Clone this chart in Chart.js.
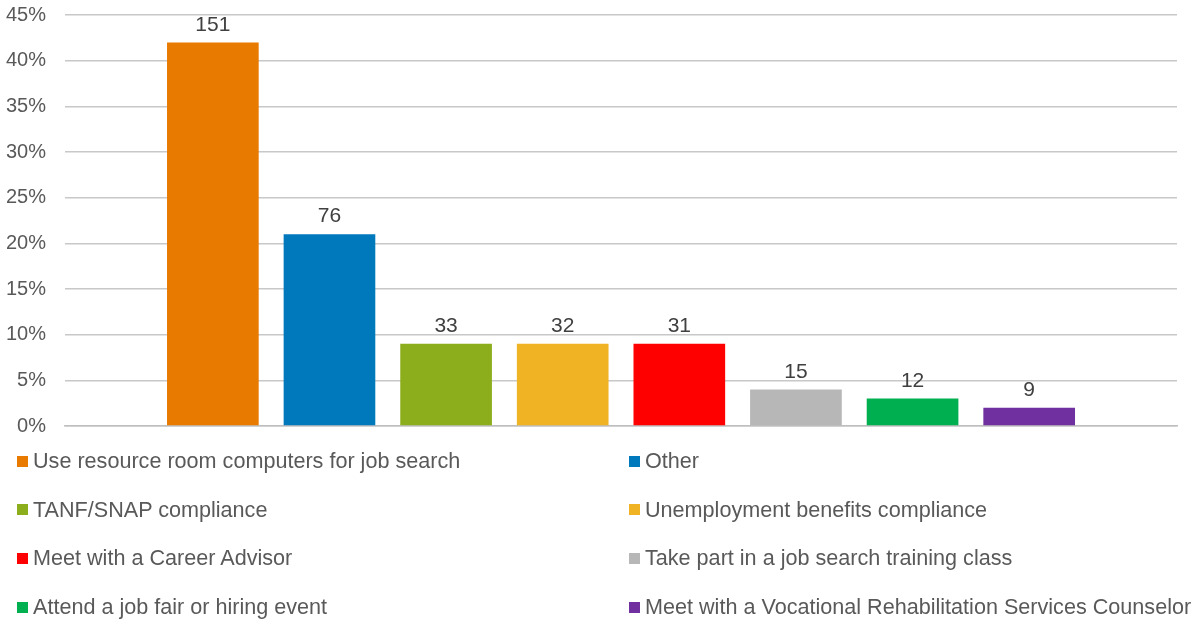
<!DOCTYPE html>
<html>
<head>
<meta charset="utf-8">
<script src="https://cdn.jsdelivr.net/npm/chart.js@4/dist/chart.umd.min.js"></script>
<style>
  html, body { margin: 0; padding: 0; background: #fff; }
  #wrap { position: relative; width: 1204px; height: 622px; overflow: hidden; font-family: "Liberation Sans", Arial, sans-serif; }
  #chartBox { position: absolute; left: 0; top: -16px; width: 1204px; height: 473px; }
  #legend { position: absolute; left: 17px; top: 446px; width: 1187px; display: grid;
            grid-template-columns: 612px auto; grid-auto-rows: 48.7px; }
  .item { display: flex; align-items: center; font-size: 21.6px; color: #595959; white-space: nowrap; height: 30px; }
  .box { width: 11px; height: 11px; margin-right: 5px; flex: none; }
</style>
</head>
<body>
<div id="wrap">
  <div id="chartBox"><canvas id="chart"></canvas></div>
  <div id="legend"></div>
</div>
<script>
// ========== DATA ==========
const seriesNames = [
    "Use resource room computers for job search",
    "Other",
    "TANF/SNAP compliance",
    "Unemployment benefits compliance",
    "Meet with a Career Advisor",
    "Take part in a job search training class",
    "Attend a job fair or hiring event",
    "Meet with a Vocational Rehabilitation Services Counselor"
];
const percents = [42, 21, 9, 9, 9, 4, 3, 2];
const counts = [151, 76, 33, 32, 31, 15, 12, 9];
const colors = ["#E97A00", "#0079BC", "#8DAE1C", "#F0B323", "#FF0000", "#B7B7B7", "#00B050", "#7030A0"];

// ========== PLUGINS ==========
// draws the count above each bar
const countLabels = {
    id: "countLabels",
    afterDatasetsDraw(chart) {
        const ctx = chart.ctx;
        ctx.save();
        ctx.font = "21px 'Liberation Sans', Arial, sans-serif";
        ctx.fillStyle = "#404040";
        ctx.textAlign = "center";
        ctx.textBaseline = "bottom";
        chart.data.datasets.forEach((ds, i) => {
            const bar = chart.getDatasetMeta(i).data[0];
            ctx.fillText(counts[i], bar.x, bar.y - 7);
        });
        ctx.restore();
    }
};

// ========== CHART ==========
const chart = new Chart(document.getElementById("chart"), {
    type: "bar",
    data: {
        labels: [""],
        datasets: seriesNames.map((name, i) => ({
            label: name,
            data: [percents[i]],
            backgroundColor: colors[i],
            borderWidth: 0,
            categoryPercentage: 0.839,
            barPercentage: 0.786
        }))
    },
    options: {
        responsive: true,
        maintainAspectRatio: false,
        animation: false,
        layout: { padding: { left: -13, right: 27, top: 4, bottom: 0 } },
        plugins: { legend: { display: false }, tooltip: { enabled: false } },
        scales: {
            x: {
                grid: { display: false },
                border: { color: "#BFBFBF", width: 1.5 },
                ticks: { display: false }
            },
            y: {
                min: 0,
                max: 45,
                ticks: {
                    stepSize: 5,
                    padding: 19,
                    color: "#595959",
                    font: { size: 20, family: "'Liberation Sans', Arial, sans-serif" },
                    callback: v => v + "%"
                },
                grid: { color: "#C8C8C8", lineWidth: 1.5, drawTicks: false },
                border: { display: false }
            }
        }
    },
    plugins: [countLabels]
});

// ========== LEGEND ==========
const legendEl = document.getElementById("legend");
seriesNames.forEach((name, i) => {
    const item = document.createElement("div");
    item.className = "item";
    item.innerHTML = `<span class="box" style="background:${colors[i]}"></span><span>${name}</span>`;
    legendEl.appendChild(item);
});
</script>
</body>
</html>
